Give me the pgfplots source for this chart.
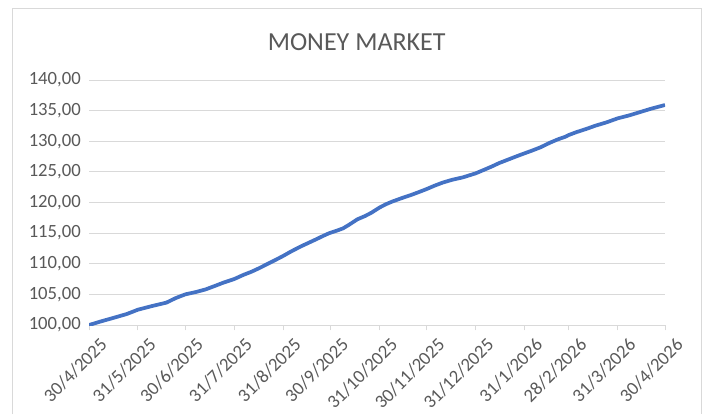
\documentclass[border=0pt]{standalone}
\usepackage{fontspec}
\setmainfont{Carlito}
\usepackage{pgfplots}
\pgfplotsset{compat=1.18}
\definecolor{mmblue}{HTML}{4472C4}
\definecolor{txtgray}{HTML}{595959}
\definecolor{gridgray}{HTML}{D9D9D9}

\begin{document}
\begin{tikzpicture}
\useasboundingbox (0,0) rectangle (528.75pt,310.5pt);
\draw[gridgray, line width=0.75pt] (9pt,0) -- (9pt,303.75pt) -- (525.75pt,303.75pt) -- (525.75pt,0);
\node[txtgray, font=\fontsize{19.5}{22}\selectfont] at (267.5pt,279pt) {MONEY MARKET};
\begin{axis}[
    at={(66.75pt,66.75pt)}, anchor=south west,
    scale only axis,
    width=432pt, height=183.75pt,
    xmin=0, xmax=365,
    ymin=100, ymax=140,
    ytick={100,105,...,140},
    xtick={0,31,61,92,123,153,184,214,245,276,304,335,365},
    xticklabels={30/4/2025,31/5/2025,30/6/2025,31/7/2025,31/8/2025,30/9/2025,31/10/2025,30/11/2025,31/12/2025,31/1/2026,28/2/2026,31/3/2026,30/4/2026},
    axis x line*=bottom, axis y line*=left,
    x axis line style={draw=gridgray, line width=0.75pt, -},
    y axis line style={draw=none},
    ytick style={draw=none},
    xtick style={draw=gridgray, line width=0.75pt},
    tick align=outside, major tick length=4pt,
    ymajorgrids=true,
    grid style={gridgray, line width=0.75pt},
    ticklabel style={txtgray, font=\fontsize{14}{16}\selectfont},
    xticklabel style={rotate=45, anchor=north east, inner sep=1pt, yshift=-7.5pt, xshift=3pt},
    yticklabel style={inner sep=2pt},
    /pgf/number format/assume math mode=true,
    yticklabel={\pgfmathprintnumber[fixed, fixed zerofill, precision=2, use comma]{\tick}},
]
\addplot[color=mmblue, line width=2.8pt, line join=round] coordinates {
(0,100.00)(8,100.62)(16,101.20)(24,101.80)(31,102.50)(40,103.10)(49,103.65)
(55,104.40)(61,105.00)(68,105.40)(74,105.82)(80,106.40)(85,106.90)(92,107.50)
(98,108.20)(103,108.70)(108,109.30)(113,109.96)(118,110.60)(123,111.27)
(128,112.00)(134,112.80)(139,113.40)(144,114.00)(148,114.50)(152,114.97)
(157,115.40)(161,115.78)(165,116.40)(170,117.25)(175,117.80)(179,118.34)
(184,119.16)(188,119.70)(192,120.14)(198,120.70)(204,121.22)(209,121.70)
(214,122.20)(219,122.75)(224,123.24)(230,123.70)(237,124.11)(245,124.76)
(250,125.30)(255,125.85)(260,126.45)(266,127.05)(271,127.55)(276,128.03)
(281,128.50)(286,129.00)(292,129.75)(297,130.30)(302,130.75)(304,131.02)
(309,131.50)(315,132.00)(321,132.55)(328,133.09)(335,133.74)(342,134.20)
(348,134.67)(356,135.30)(365,135.92)
};
\end{axis}
\end{tikzpicture}
\end{document}
